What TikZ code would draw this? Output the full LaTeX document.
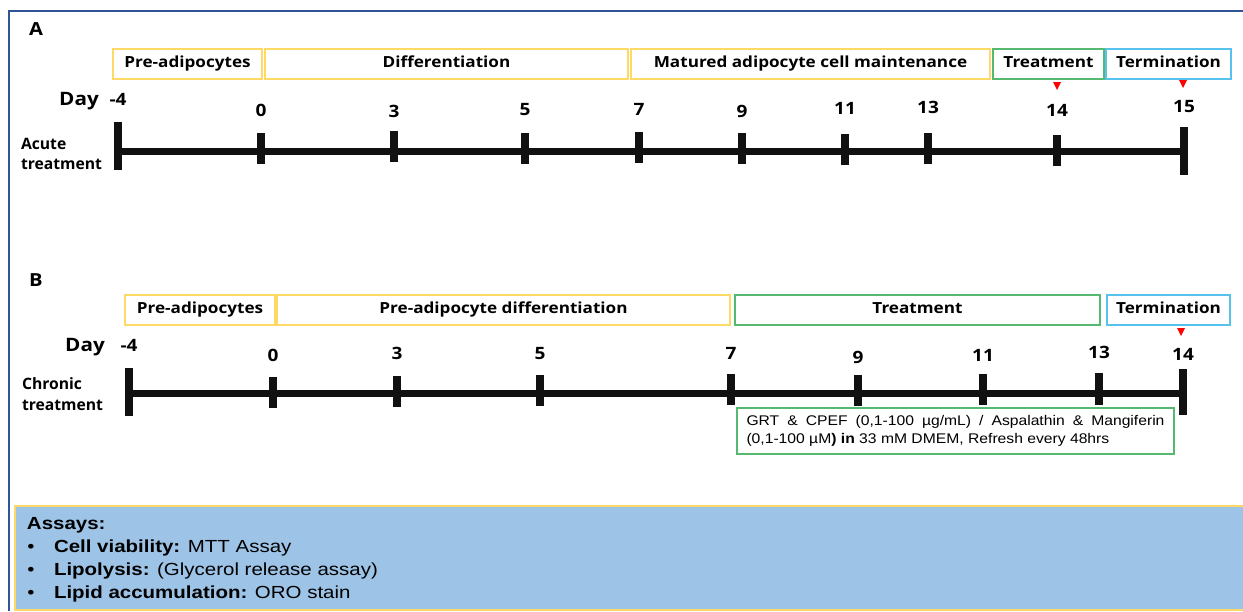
\documentclass[tikz,border=0pt]{standalone}
\usepackage{fontspec}
\newfontfamily\lab{Open Sans}[FakeStretch=1.12]
\newfontfamily\labn{Open Sans}
\newfontfamily\ar{Liberation Sans}[FakeStretch=1.12]
\newfontfamily\arw{Liberation Sans}[FakeStretch=1.17]
\definecolor{frameblue}{HTML}{2F5597}
\definecolor{boxyellow}{HTML}{FFD966}
\definecolor{boxgreen}{HTML}{55B96F}
\definecolor{boxblue}{HTML}{57C2EE}
\definecolor{assayfill}{HTML}{9DC3E6}
\definecolor{lineblack}{HTML}{111111}
\tikzset{
  every node/.style={inner sep=0pt, outer sep=0pt},
  capfix/.style={text height=0.72em, text depth=0pt},
  phase/.style={capfix, line width=1.4pt, minimum height=30pt, font=\lab\bfseries\fontsize{15.3}{18}\selectfont},
  ybox/.style={phase, draw=boxyellow},
  gbox/.style={phase, draw=boxgreen},
  bbox/.style={phase, draw=boxblue},
  daylab/.style={capfix, font=\lab\bfseries\fontsize{17}{20}\selectfont},
  daytxt/.style={capfix, font=\lab\bfseries\fontsize{18.5}{22}\selectfont},
  panel/.style={capfix, font=\lab\bfseries\fontsize{18}{20}\selectfont},
  side/.style={align=left, font=\labn\bfseries\fontsize{15.7}{20.5}\selectfont},
  tl/.style={line width=7pt, lineblack},
  tick/.style={line width=8pt, lineblack},
  marker/.style={fill=red},
  atext/.style={capfix, font=\arw\fontsize{17.5}{20}\selectfont},
}
\begin{document}
\begin{tikzpicture}[x=1pt,y=-1pt]
\useasboundingbox (0,0) rectangle (1243,611);
% frame
\coordinate (fr1) at (9,611);
\coordinate (fr2) at (9,11);
\coordinate (fr3) at (1243,11);
\draw[frameblue, line width=2pt] (fr1) -- (fr2) -- (fr3);

% ================= Panel A =================
\node[panel] (pA) at (36,32) {A};
\node[ybox, minimum width=149pt, anchor=north west] (a1) at (113,49) {Pre-adipocytes};
\node[ybox, minimum width=363pt, anchor=north west] (a2) at (265,49) {Differentiation};
\node[ybox, minimum width=359pt, anchor=north west] (a3) at (631,49) {Matured adipocyte cell maintenance};
\node[gbox, minimum width=111pt, anchor=north west] (a4) at (993,49) {Treatment};
\node[bbox, minimum width=125pt, anchor=north west] (a5) at (1106,49) {Termination};
\fill[marker] (1053,82) -- (1061,82) -- (1057,90) -- cycle;
\fill[marker] (1179,80) -- (1187,80) -- (1183,88) -- cycle;

\node[daytxt] (dayA) at (79,102) {Day};
\node[side, anchor=north west] (acute) at (21,138) {Acute\\treatment};

\coordinate (As) at (118,151);
\coordinate (Ae) at (1184,151);
\draw[tl] (As) -- (Ae);
\foreach \x/\tt/\ly/\ta/\tb/\nm in {
  118/-4/102/122/170/m4, 261/0/113/133/164/d0, 394/3/114/131/162/d3,
  525/5/112/133/164/d5, 639/7/112/132/163/d7, 742/9/114/133/164/d9,
  845/11/111/134/165/d11, 928/13/110/133/164/d13, 1057/14/113/135/166/d14,
  1184/15/109/127/175/d15}{
  \draw[tick] (\x,\ta) -- (\x,\tb);
  \node[daylab] (A\nm) at (\x,\ly) {\tt};
}

% ================= Panel B =================
\node[panel] (pB) at (36,283) {B};
\node[ybox, minimum width=150pt, anchor=north west] (b1) at (125,295) {Pre-adipocytes};
\node[ybox, minimum width=453pt, anchor=north west] (b2) at (277,295) {Pre-adipocyte differentiation};
\node[gbox, minimum width=365pt, anchor=north west] (b3) at (735,295) {Treatment};
\node[bbox, minimum width=123pt, anchor=north west] (b4) at (1107,295) {Termination};
\fill[marker] (1177,328) -- (1185,328) -- (1181,336) -- cycle;

\node[daytxt] (dayB) at (85,348) {Day};
\node[side, anchor=north west] (chronic) at (22,378) {Chronic\\treatment};

\coordinate (Bs) at (129,393);
\coordinate (Be) at (1183,393);
\draw[tl] (Bs) -- (Be);
\foreach \x/\tt/\ly/\ta/\tb/\nm in {
  129/-4/348/368/416/m4, 273/0/358/377/408/d0, 397/3/356/376/407/d3,
  540/5/356/375/406/d5, 731/7/356/374/405/d7, 858/9/360/375/406/d9,
  983/11/358/374/405/d11, 1099/13/355/373/405/d13, 1183/14/357/369/415/d14}{
  \draw[tick] (\x,\ta) -- (\x,\tb);
  \node[daylab] (B\nm) at (\x,\ly) {\tt};
}

\node[draw=boxgreen, line width=1.4pt, minimum width=437pt, minimum height=46pt, anchor=north west] (grt) at (737,408)
  {\parbox{418pt}{\ar\fontsize{14}{18}\selectfont
   \makebox[418pt][s]{GRT \& CPEF (0,1-100 µg/mL) / Aspalathin \& Mangiferin}\\
   (0,1-100 µM\textbf{) in} 33 mM DMEM, Refresh every 48hrs}};

% ================= Assays =================
\node[draw=boxyellow, fill=assayfill, line width=2pt, minimum width=1240pt, minimum height=104pt, anchor=north west] (assays) at (15,506) {};
\node[atext, anchor=west] (as0) at (27,526) {\bfseries Assays:};
\node[atext] (bu1) at (31,549) {•};
\node[atext] (bu2) at (31,572) {•};
\node[atext] (bu3) at (31,595) {•};
\node[atext, anchor=west] (as1) at (54,549) {\textbf{Cell viability:} MTT Assay};
\node[atext, anchor=west] (as2) at (54,572) {\textbf{Lipolysis:} (Glycerol release assay)};
\node[atext, anchor=west] (as3) at (54,595) {\textbf{Lipid accumulation:} ORO stain};
\end{tikzpicture}
\end{document}
